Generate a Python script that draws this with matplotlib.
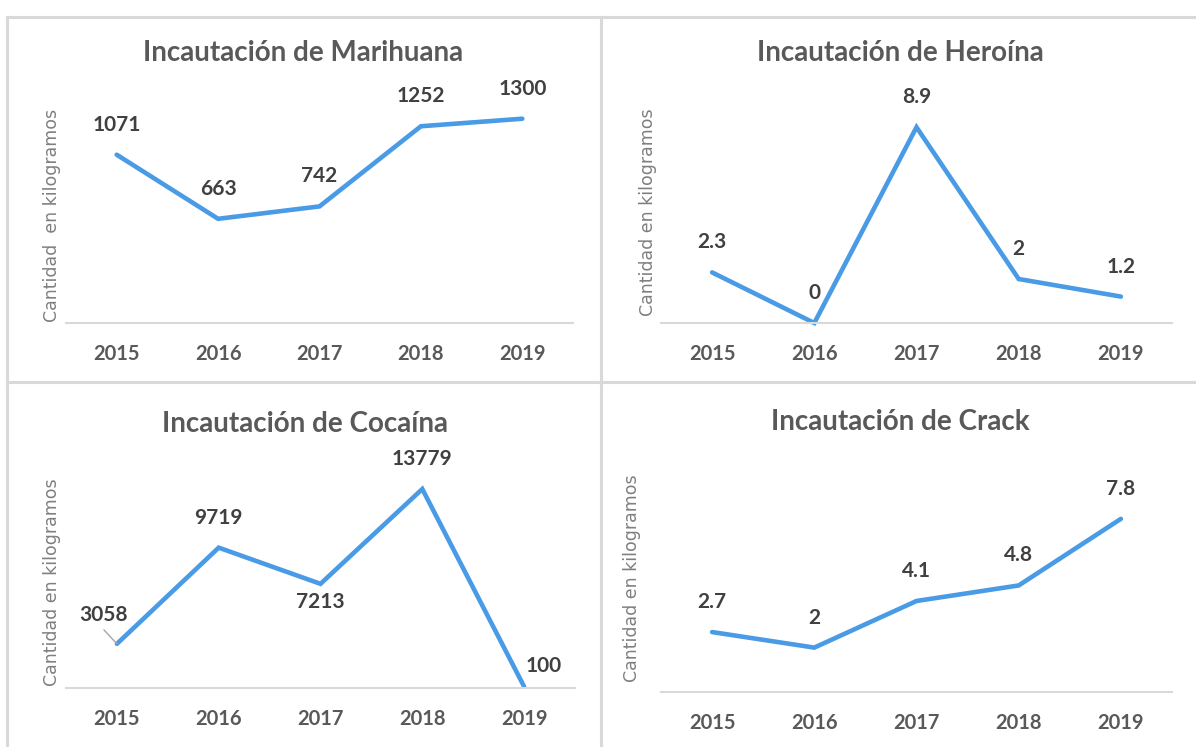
import matplotlib
matplotlib.use("Agg")
import matplotlib.pyplot as plt
from matplotlib.lines import Line2D

plt.rcParams['font.family'] = ['Lato', 'DejaVu Sans']

years = ['2015', '2016', '2017', '2018', '2019']
marihuana = [1071, 663, 742, 1252, 1300]
heroina = [2.3, 0, 8.9, 2, 1.2]
cocaina = [3058, 9719, 7213, 13779, 100]
crack = [2.7, 2, 4.1, 4.8, 7.8]

W, H = 1196, 747
LINE = '#4A9BE6'
TXT = '#404040'
GRAY = '#595959'

fig = plt.figure(figsize=(W / 100, H / 100), dpi=100)


def px_axes(x0, x1, ytop, ybot):
    return fig.add_axes([x0 / W, 1 - ybot / H, (x1 - x0) / W, (ybot - ytop) / H])


def panel(ax, values, title, ymax, title_xy, ylabel, ylabel_x, label_offsets=None):
    x = list(range(len(values)))
    ax.plot(x, values, color=LINE, lw=3.3, solid_capstyle='round', solid_joinstyle='miter', clip_on=False)
    ax.set_xlim(-0.5, len(values) - 0.5)
    ax.set_ylim(0, ymax)
    ax.set_xticks(x)
    ax.set_xticklabels(years, fontsize=14.5, fontweight='bold', color=GRAY)
    ax.tick_params(axis='x', length=0, pad=15)
    ax.set_yticks([])
    for s in ['top', 'right', 'left']:
        ax.spines[s].set_visible(False)
    ax.spines['bottom'].set_color('#d9d9d9')
    ax.spines['bottom'].set_linewidth(1.5)
    ax.patch.set_alpha(0)
    for i, v in enumerate(values):
        dx, dy = (0, 30)
        if label_offsets and i in label_offsets:
            dx, dy = label_offsets[i]
        ax.annotate(f'{v:g}', (i, v), xytext=(dx, dy), textcoords='offset pixels',
                    ha='center', va='center', fontsize=15, fontweight='bold', color=TXT)
    fig.text(title_xy[0] / W, 1 - title_xy[1] / H, title, ha='center', va='center',
             fontsize=20, fontweight='bold', color=GRAY)
    fig.text(ylabel_x[0] / W, 1 - ylabel_x[1] / H, ylabel, rotation=90, ha='center', va='center',
             fontsize=12.5, color='#7f7f7f', family='DejaVu Sans')


ax1 = px_axes(66, 573, 103, 323)
panel(ax1, marihuana, 'Incautación de Marihuana', 1400, (303, 53),
      'Cantidad  en kilogramos', (52, 215))

ax2 = px_axes(661, 1172, 103, 323)
panel(ax2, heroina, 'Incautación de Heroína', 10, (900, 53),
      'Cantidad en kilogramos', (648, 212))

ax3 = px_axes(66, 575, 468, 688)
panel(ax3, cocaina, 'Incautación de Cocaína', 15235, (305, 424),
      'Cantidad en kilogramos', (52, 582), label_offsets={0: (-13, 29), 2: (0, -18), 4: (20, 21)})
# leader line for the 2015 label
ax3.annotate('', (0, cocaina[0]), xytext=(-13, 14), textcoords='offset pixels',
             arrowprops=dict(arrowstyle='-', color='#a6a6a6', lw=1, shrinkA=0, shrinkB=0))

ax4 = px_axes(661, 1172, 470, 692)
panel(ax4, crack, 'Incautación de Crack', 10, (900, 422),
      'Cantidad en kilogramos', (632, 578))

# panel borders
bc = '#d9d9d9'
for xs, ys in [((7, W), (17, 17)), ((7, 7), (17, H)), ((601, 601), (17, H)),
               ((7, W), (382, 382))]:
    fig.add_artist(Line2D([x / W for x in xs], [1 - y / H for y in ys], color=bc, lw=2.2))

fig.savefig('out.png', dpi=100, facecolor='white')
